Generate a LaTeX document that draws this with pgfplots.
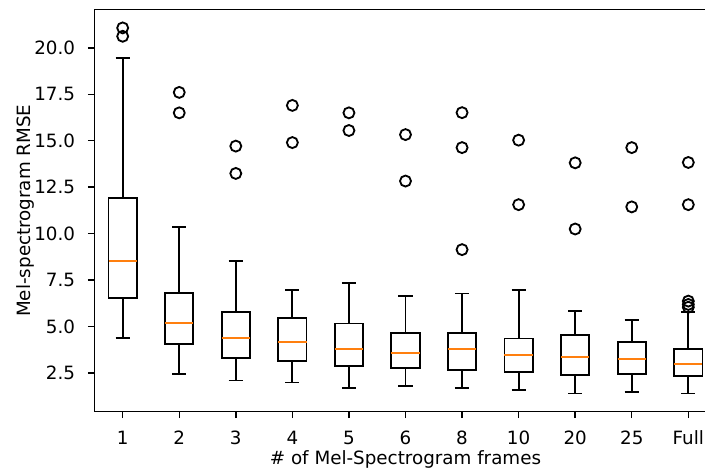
\documentclass[border=0pt]{standalone}
\usepackage{fontspec}
\setmainfont{DejaVu Sans}
\usepackage{pgfplots}
\pgfplotsset{compat=1.18}
\usepgfplotslibrary{statistics}
\definecolor{mplorange}{HTML}{FF7F0E}
\pgfplotsset{
  mplbox/.style={
    black, solid, line width=1.83pt,
    mark=o, mark size=5.5pt,
    mark options={black, solid, line width=1.83pt, fill=none},
    boxplot/draw direction=y,
    boxplot/box extend=0.5,
    boxplot/whisker extend=0.25,
    boxplot/every median/.style={draw=mplorange, line width=2.1pt},
  }
}
\begin{document}
\begin{tikzpicture}[font=\fontsize{18.3}{22}\selectfont]
\useasboundingbox (-94.4pt,-56.3pt) rectangle (610.6pt,411.7pt);
\clip (-94.4pt,-56.3pt) rectangle (610.6pt,411.7pt);
\begin{axis}[
  at={(0pt,0pt)}, anchor=south west,
  scale only axis,
  width=622.2pt, height=402pt,
  xmin=0.5, xmax=11.5, ymin=0.42, ymax=22.05,
  axis line style={line width=1.46pt, black},
  every tick/.style={line width=1.46pt, black},
  tick align=outside,
  major tick length=6.4pt,
  xtick pos=bottom, ytick pos=left,
  xtick={1,2,3,4,5,6,7,8,9,10,11},
  xticklabels={1,2,3,4,5,6,8,10,20,25,Full},
  ytick={2.5,5,7.5,10,12.5,15,17.5,20},
  /pgf/number format/fixed,
  /pgf/number format/fixed zerofill,
  /pgf/number format/precision=1,
  /pgf/number format/assume math mode=true,
  xticklabel style={anchor=base, inner sep=0pt, yshift=-26.6pt},
  yticklabel style={anchor=east, inner sep=0pt, xshift=-12.8pt},
  xlabel={\# of Mel-Spectrogram frames},
  ylabel={Mel-spectrogram RMSE},
  every axis x label/.style={at={(axis description cs:0.5,0)}, anchor=base, inner sep=0pt, yshift=-52.8pt},
  every axis y label/.style={at={(axis description cs:-0.1020,0.5)}, anchor=base, rotate=90, inner sep=0pt},
  clip=false,
]
\addplot[mplbox, boxplot prepared={draw position=1, lower whisker=4.38, lower quartile=6.55, median=8.55, upper quartile=11.93, upper whisker=19.45}]
  table[row sep=\\, y index=0] {data\\ 21.07\\ 20.62\\};
\addplot[mplbox, boxplot prepared={draw position=2, lower whisker=2.47, lower quartile=4.08, median=5.17, upper quartile=6.80, upper whisker=10.34}]
  table[row sep=\\, y index=0] {data\\ 17.60\\ 16.50\\};
\addplot[mplbox, boxplot prepared={draw position=3, lower whisker=2.10, lower quartile=3.29, median=4.38, upper quartile=5.78, upper whisker=8.55}]
  table[row sep=\\, y index=0] {data\\ 14.71\\ 13.24\\};
\addplot[mplbox, boxplot prepared={draw position=4, lower whisker=1.99, lower quartile=3.17, median=4.17, upper quartile=5.47, upper whisker=6.98}]
  table[row sep=\\, y index=0] {data\\ 16.90\\ 14.90\\};
\addplot[mplbox, boxplot prepared={draw position=5, lower whisker=1.70, lower quartile=2.88, median=3.77, upper quartile=5.17, upper whisker=7.35}]
  table[row sep=\\, y index=0] {data\\ 16.50\\ 15.55\\};
\addplot[mplbox, boxplot prepared={draw position=6, lower whisker=1.80, lower quartile=2.79, median=3.58, upper quartile=4.67, upper whisker=6.65}]
  table[row sep=\\, y index=0] {data\\ 15.33\\ 12.83\\};
\addplot[mplbox, boxplot prepared={draw position=7, lower whisker=1.70, lower quartile=2.66, median=3.77, upper quartile=4.67, upper whisker=6.78}]
  table[row sep=\\, y index=0] {data\\ 16.51\\ 14.63\\ 9.14\\};
\addplot[mplbox, boxplot prepared={draw position=8, lower whisker=1.59, lower quartile=2.55, median=3.47, upper quartile=4.36, upper whisker=6.96}]
  table[row sep=\\, y index=0] {data\\ 15.03\\ 11.56\\};
\addplot[mplbox, boxplot prepared={draw position=9, lower whisker=1.40, lower quartile=2.38, median=3.38, upper quartile=4.56, upper whisker=5.85}]
  table[row sep=\\, y index=0] {data\\ 13.81\\ 10.25\\};
\addplot[mplbox, boxplot prepared={draw position=10, lower whisker=1.48, lower quartile=2.45, median=3.27, upper quartile=4.19, upper whisker=5.37}]
  table[row sep=\\, y index=0] {data\\ 14.63\\ 11.44\\};
\addplot[mplbox, boxplot prepared={draw position=11, lower whisker=1.40, lower quartile=2.36, median=2.97, upper quartile=3.79, upper whisker=5.78}]
  table[row sep=\\, y index=0] {data\\ 13.83\\ 11.56\\ 6.37\\ 6.19\\ 6.04\\};
\end{axis}
\end{tikzpicture}
\end{document}
